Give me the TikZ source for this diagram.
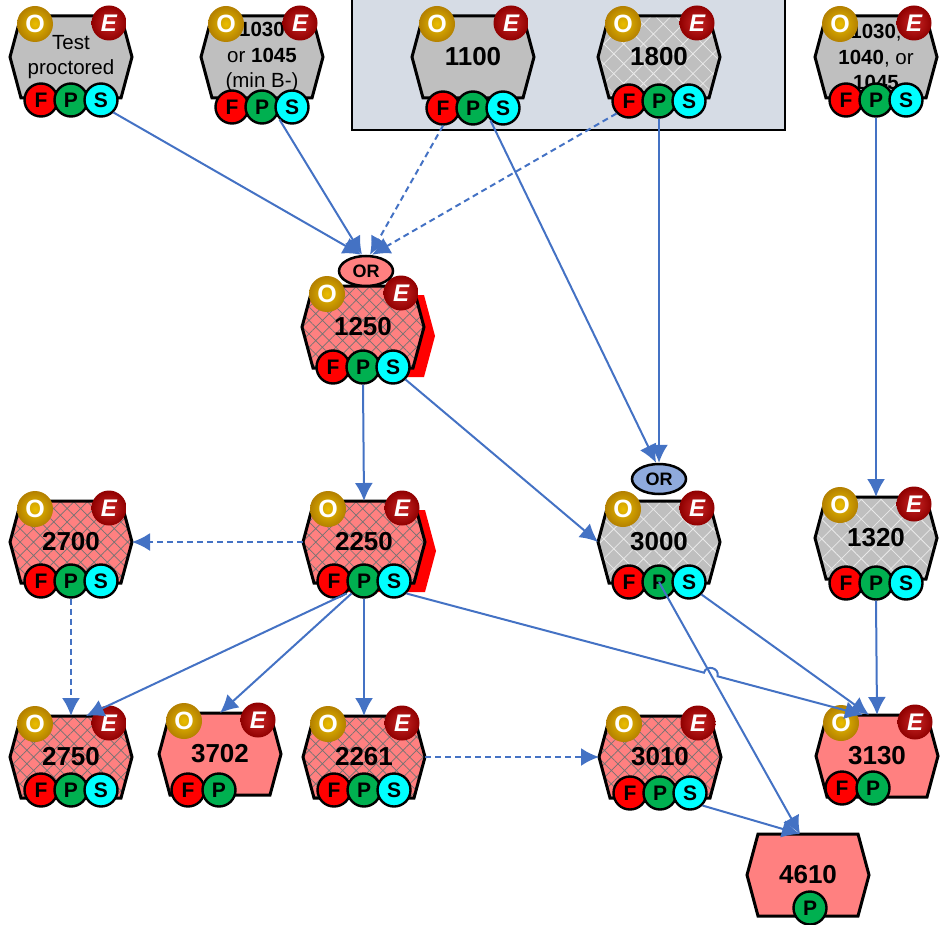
\documentclass[tikz,border=0pt]{standalone}
\usepackage{fontspec}
\setmainfont{Liberation Sans}
\usetikzlibrary{arrows.meta,calc,patterns.meta,shapes.geometric,intersections}

\definecolor{hexpink}{HTML}{FF8080}
\definecolor{hexgray}{HTML}{BFBFBF}
\definecolor{fred}{HTML}{FF0000}
\definecolor{pgreen}{HTML}{00B050}
\definecolor{scyan}{HTML}{00FFFF}
\definecolor{linkblue}{HTML}{4472C4}
\definecolor{boxblue}{HTML}{D6DCE5}
\definecolor{orblue}{HTML}{8FAADC}
\definecolor{ogold}{HTML}{E0A000}
\definecolor{ered}{HTML}{C00000}

\tikzset{
  hexbox/.style={rectangle, minimum width=122pt, minimum height=82pt, inner sep=0pt, outer sep=0pt},
  hexline/.style={draw=black, line width=3pt, line join=miter},
  pinkfill/.style={fill=hexpink},
  pinkhatch/.style={preaction={fill=hexpink}, pattern={Hatch[angle=45,distance=9.5pt,line width=0.7pt]}, pattern color=black!55},
  grayfill/.style={fill=hexgray},
  grayhatch/.style={preaction={fill=hexgray}, pattern={Hatch[angle=45,distance=14pt,line width=0.8pt]}, pattern color=white!65!hexgray},
  redshadow/.style={preaction={fill=fred, transform canvas={shift={(11pt,-9pt)}}}},
  numtext/.style={font=\fontsize{26}{28}\selectfont\bfseries, inner sep=0pt},
  smalltext/.style={font=\fontsize{20.5}{25.5}\selectfont, align=center, inner sep=0pt},
  badge/.style={circle, draw=black, line width=2.4pt, minimum size=33pt, inner sep=0pt, font=\fontsize{21}{21}\selectfont\bfseries},
  fbadge/.style={badge, fill=fred},
  pbadge/.style={badge, fill=pgreen},
  sbadge/.style={badge, fill=scyan},
  obadge/.style={circle, minimum size=36pt, inner sep=0pt, inner color=ogold!70!yellow, outer color=ogold!80!black, text=white, font=\fontsize{25}{25}\selectfont\bfseries},
  ebadge/.style={circle, minimum size=35pt, inner sep=0pt, inner color=ered!85!white, outer color=ered!75!black, text=white, font=\fontsize{24}{24}\selectfont\bfseries\itshape},
  orbox/.style={ellipse, draw=black, line width=2.5pt, minimum width=54pt, minimum height=30pt, inner sep=0pt, font=\fontsize{18}{18}\selectfont\bfseries},
  link/.style={draw=linkblue, line width=2pt, -{Latex[length=18pt,width=18pt]}},
  optlink/.style={link, dash pattern=on 6pt off 4pt},
}

% hexagon course box: name, position, fill style, text style, text
\newcommand{\course}[5]{%
  \node[hexbox] (#1) at (#2) {};
  \draw[hexline,#3] ($(#1.north west)+(11,0)$) -- ($(#1.north east)+(-11,0)$) -- (#1.east)
    -- ($(#1.south east)+(-11,0)$) -- ($(#1.south west)+(11,0)$) -- (#1.west) -- cycle;
  \node[#4] (#1t) at (#1) {#5};
}
\newcommand{\oebadges}[1]{%
  \node[obadge] (#1O) at ($(#1)+(-36,-33)$) {O};
  \node[ebadge] (#1E) at ($(#1)+(38,-34)$) {E};
}
\newcommand{\fpsbadges}[2]{%
  \node[fbadge] (#1F) at ($(#1)+(-30,#2)$) {F};
  \node[pbadge] (#1P) at ($(#1)+(0,#2)$) {P};
  \node[sbadge] (#1S) at ($(#1)+(30,#2)$) {S};
}
\newcommand{\fpbadges}[3]{%
  \node[fbadge] (#1F) at ($(#1)+(#2,#3)$) {F};
  \node[pbadge] (#1P) at ($(#1)+(#2+31,#3)$) {P};
}

\begin{document}
\begin{tikzpicture}[x=1pt,y=-1pt]
\useasboundingbox (0,0) rectangle (944,925);

% group frame
\draw[line width=2pt, fill=boxblue] (352,-5) rectangle (785,130);

% top row
\course{test}{71,57}{grayfill}{smalltext}{Test\\proctored}
\oebadges{test} \fpsbadges{test}{43}
\course{c1030}{262,57}{grayfill}{smalltext}{\textbf{1030}\\or \textbf{1045}\\(min B-)}
\oebadges{c1030} \fpsbadges{c1030}{50}
\course{c1100}{473,57}{grayfill}{numtext}{1100}
\oebadges{c1100} \fpsbadges{c1100}{51}
\course{c1800}{659,57}{grayhatch}{numtext}{1800}
\oebadges{c1800} \fpsbadges{c1800}{44}
\course{c1040}{876,57}{grayfill}{smalltext}{\textbf{1030},\\\textbf{1040}, or\\\textbf{1045}}
\oebadges{c1040} \fpsbadges{c1040}{43}

% second row
\course{c1250}{363,327}{redshadow,pinkhatch}{numtext}{1250}
\oebadges{c1250} \fpsbadges{c1250}{40}
\node[orbox, fill=hexpink] (or1250) at (366,271) {OR};

% third row
\course{c2700}{71,542}{pinkhatch}{numtext}{2700}
\oebadges{c2700} \fpsbadges{c2700}{39}
\course{c2250}{364,542}{redshadow,pinkhatch}{numtext}{2250}
\oebadges{c2250} \fpsbadges{c2250}{39}
\course{c3000}{659,542}{grayhatch}{numtext}{3000}
\oebadges{c3000} \fpsbadges{c3000}{40}
\node[orbox, fill=orblue] (or3000) at (659,479) {OR};
\course{c1320}{876,538}{grayhatch}{numtext}{1320}
\oebadges{c1320} \fpsbadges{c1320}{45}

% fourth row
\course{c2750}{71,757}{pinkhatch}{numtext}{2750}
\oebadges{c2750} \fpsbadges{c2750}{33}
\course{c3702}{220,754}{pinkfill}{numtext}{3702}
\oebadges{c3702} \fpbadges{c3702}{-32}{36}
\course{c2261}{364,757}{pinkhatch}{numtext}{2261}
\oebadges{c2261} \fpsbadges{c2261}{33}
\course{c3010}{660,757}{pinkhatch}{numtext}{3010}
\oebadges{c3010} \fpsbadges{c3010}{36}
\course{c3130}{877,756}{pinkfill}{numtext}{3130}
\oebadges{c3130} \fpbadges{c3130}{-35}{32}

% last row
\course{c4610}{808,875}{pinkfill}{numtext}{4610}
\node[pbadge] (c4610P) at ($(c4610)+(2,33)$) {P};

% connectors
\draw[link] (testS.south east) -- ([xshift=-5pt]or1250.north);
\draw[link] (c1030S.south west) -- ([xshift=-4pt]or1250.north);
\draw[optlink] (c1100F.south) -- ([xshift=4pt]or1250.north);
\draw[optlink] (c1800F.south west) -- ([xshift=6pt]or1250.north);
\draw[link] (c1100S.south west) -- ([xshift=-3pt]or3000.north);
\draw[link] (c1800P.south) -- (or3000.north);
\draw[link] (c1040P.south) -- (c1320.north);
\draw[link] (c1250P.south) -- (c2250.north);
\draw[link] (c1250S.south east) -- (c3000.west);
\draw[optlink] (c2250.west) -- (c2700.east);
\draw[optlink] (c2700P.south) -- (c2750.north);
\draw[link] (c2250F.south east) -- ([xshift=15pt]c2750.north);
\draw[link] (c2250P.south west) -- (c3702.north);
\draw[link] (c2250P.south) -- (c2261.north);
\draw[optlink] (c2261.east) -- (c3010.west);
\draw[link] (c1320P.south) -- (c3130.north);
\draw[link] (c3000S.south east) -- ([xshift=-8pt]c3130.north);
\draw[link] (c3010S.south east) -- ([xshift=-8pt]c4610.north);

% line with a hop over the 3000 -> 4610 line
\coordinate (to3130) at ([xshift=-14pt]c3130.north);
\coordinate (to4610) at ([xshift=-8pt]c4610.north);
\path[name path=hopA] (c2250S.south east) -- (to3130);
\path[name path=hopB] (c3000P.center) -- (to4610);
\path[name intersections={of=hopA and hopB, by=hop}];
\coordinate (hop1) at ($(hop)!7pt!(c2250S.south east)$);
\coordinate (hop2) at ($(hop)!7pt!(to3130)$);
\draw[link] (c2250S.south east) -- (hop1) to[bend left=90, looseness=1.6] (hop2) -- (to3130);
\draw[link] (c3000P.center) -- (to4610);
\end{tikzpicture}
\end{document}
